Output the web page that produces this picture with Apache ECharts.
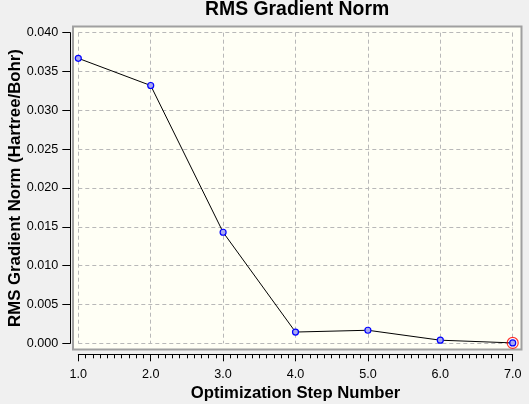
<!DOCTYPE html>
<html><head><meta charset="utf-8">
<script src="https://cdn.jsdelivr.net/npm/echarts@6/dist/echarts.min.js"></script>
<style>html,body{margin:0;padding:0;background:#f0f0f0;}#c{width:529px;height:404px;}</style>
</head><body><div id="c"></div>
<script>
const steps = [1, 2, 3, 4, 5, 6, 7];
const rmsGradient = [0.0367, 0.0332, 0.0143, 0.00145, 0.00168, 0.00040, 0.00005];
const selectedIndex = 6;
const yTickFormat = v => v.toFixed(3);
const xTickFormat = v => v.toFixed(1);

const chart = echarts.init(document.getElementById('c'));
const F = '"Liberation Sans", Arial, sans-serif';
chart.setOption({
  backgroundColor: '#f0f0f0',
  animation: false,
  title: {
    text: 'RMS Gradient Norm',
    left: 205, top: 0,
    padding: 0,
    textStyle: { fontFamily: F, fontWeight: 'bold', fontSize: 19.4, color: '#000' }
  },
  graphic: [{
    type: 'rect', z: -10,
    shape: { x: 73, y: 26.5, width: 448.5, height: 323 },
    style: { fill: '#fffff5', stroke: '#a0a0a0', lineWidth: 2 }
  }],
  grid: { left: 78.3, right: 16.3, top: 32.7, bottom: 60.7, containLabel: false, outerBoundsMode: 'none' },
  xAxis: {
    type: 'value', min: 1, max: 7, interval: 1,
    offset: 11,
    name: 'Optimization Step Number', nameLocation: 'middle', nameGap: 31, nameMoveOverlap: false,
    nameTextStyle: { fontFamily: F, fontWeight: 'bold', fontSize: 16.7, color: '#000' },
    axisLine: { onZero: false, lineStyle: { color: '#000', width: 1 } },
    axisTick: { length: 7, lineStyle: { color: '#000' } },
    minorTick: { show: true, splitNumber: 10, length: 4, lineStyle: { color: '#000' } },
    axisLabel: { formatter: xTickFormat, margin: 14, fontFamily: F, fontSize: 12.6, color: '#000' },
    splitLine: { show: true, lineStyle: { color: '#b8b8b8', type: [4, 3], width: 1 } }
  },
  yAxis: {
    type: 'value', min: 0, max: 0.04, interval: 0.005,
    offset: 8,
    name: 'RMS Gradient Norm (Hartree/Bohr)', nameLocation: 'middle', nameGap: 46, nameMoveOverlap: false,
    nameTextStyle: { fontFamily: F, fontWeight: 'bold', fontSize: 16.8, color: '#000' },
    axisLine: { show: true, lineStyle: { color: '#000', width: 1 } },
    axisTick: { show: true, length: 8, lineStyle: { color: '#000' } },
    axisLabel: { formatter: yTickFormat, margin: 12, fontFamily: F, fontSize: 12.6, color: '#000' },
    splitLine: { show: true, lineStyle: { color: '#b8b8b8', type: [4, 3], width: 1 } }
  },
  series: [{
    type: 'line',
    data: steps.map((s, i) => [s, rmsGradient[i]]),
    lineStyle: { color: '#000', width: 1 },
    symbol: 'circle', symbolSize: 6,
    itemStyle: { color: '#a8a8f0', borderColor: '#0000ff', borderWidth: 1.2 },
    z: 3
  }, {
    type: 'scatter',
    data: [[steps[selectedIndex], rmsGradient[selectedIndex]]],
    symbol: 'circle', symbolSize: 11,
    itemStyle: { color: 'transparent', borderColor: '#ff0000', borderWidth: 1.2 },
    z: 4
  }]
});
</script></body></html>
